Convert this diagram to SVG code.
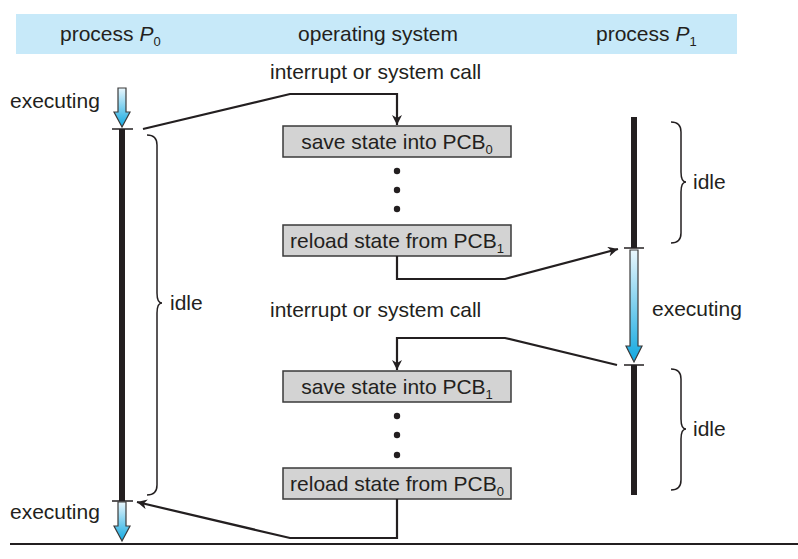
<svg xmlns="http://www.w3.org/2000/svg" width="798" height="559" viewBox="0 0 798 559">
<style>
text{font-family:"Liberation Sans",Arial,sans-serif;font-size:21px;fill:#231f20}
.mid{text-anchor:middle}
.box{fill:#d3d3d3;stroke:#3a3a3a;stroke-width:1.5}
.con{fill:none;stroke:#231f20;stroke-width:2.2}
.tl{fill:none;stroke:#231f20;stroke-width:6}
.tick{stroke:#231f20;stroke-width:1.5}
.brace{fill:none;stroke:#231f20;stroke-width:1.5}
.exec{fill:url(#g);stroke:#3a3a3a;stroke-width:1.2}
.dot{fill:#231f20}
</style>
<defs>
<linearGradient id="g" x1="0" y1="0" x2="0" y2="1">
<stop offset="0" stop-color="#eaf7fd"/>
<stop offset="1" stop-color="#10a8e0"/>
</linearGradient>
<marker id="ah" viewBox="0 0 10 10" refX="10" refY="5" markerWidth="10" markerHeight="10" markerUnits="userSpaceOnUse" orient="auto">
<path d="M0,0 L10,5 L0,10 L3,5 Z" fill="#231f20"/>
</marker>
</defs>

<g id="header">
<rect x="16" y="14" width="721" height="40" fill="#c7e9f9"/>
<text x="60" y="41">process <tspan font-style="italic">P</tspan><tspan font-size="13" dy="5">0</tspan></text>
<text x="378" y="41" class="mid">operating system</text>
<text x="596" y="41">process <tspan font-style="italic">P</tspan><tspan font-size="13" dy="5">1</tspan></text>
</g>

<g id="process-p0">
<path class="exec" d="M118,88 H126 V112 H130 L122,127 L114,112 H118 Z"/>
<line class="tick" x1="112" y1="129" x2="133" y2="129"/>
<line class="tl" x1="122" y1="129" x2="122" y2="501"/>
<line class="tick" x1="112" y1="501" x2="133" y2="501"/>
<path class="exec" d="M118,502 H126 V526 H130 L122,541 L114,526 H118 Z"/>
<text x="10" y="108">executing</text>
<text x="10" y="519">executing</text>
<path class="brace" d="M147,135 Q157,135 157,145 L157,293 Q157,303 162,303 Q157,303 157,313 L157,485 Q157,495 147,495"/>
<text x="170" y="310">idle</text>
</g>

<g id="process-p1">
<line class="tl" x1="634" y1="117" x2="634" y2="248"/>
<line class="tick" x1="624" y1="248" x2="644" y2="248"/>
<path class="exec" d="M630,250 H638 V346 H642 L634,362 L626,346 H630 Z"/>
<line class="tick" x1="624" y1="365" x2="644" y2="365"/>
<line class="tl" x1="634" y1="365" x2="634" y2="495"/>
<path class="brace" d="M671,122 Q681,122 681,132 L681,172 Q681,182 686,182 Q681,182 681,192 L681,233 Q681,243 671,243"/>
<text x="693" y="189">idle</text>
<text x="652" y="316">executing</text>
<path class="brace" d="M671,369 Q681,369 681,379 L681,419 Q681,429 686,429 Q681,429 681,439 L681,480 Q681,490 671,490"/>
<text x="693" y="436">idle</text>
</g>

<g id="os">
<text x="270" y="79">interrupt or system call</text>
<text x="270" y="317">interrupt or system call</text>
</g>

<g id="save-pcb0">
<rect class="box" x="283" y="126" width="228" height="31"/>
<text x="397" y="149" class="mid">save state into PCB<tspan font-size="13" dy="5">0</tspan></text>
</g>
<g id="dots1">
<circle class="dot" cx="397" cy="171" r="3.2"/>
<circle class="dot" cx="397" cy="190" r="3.2"/>
<circle class="dot" cx="397" cy="209" r="3.2"/>
</g>
<g id="reload-pcb1">
<rect class="box" x="283" y="225" width="228" height="31"/>
<text x="397" y="248" class="mid">reload state from PCB<tspan font-size="13" dy="5">1</tspan></text>
</g>
<g id="save-pcb1">
<rect class="box" x="283" y="371" width="228" height="31"/>
<text x="397" y="394" class="mid">save state into PCB<tspan font-size="13" dy="5">1</tspan></text>
</g>
<g id="dots2">
<circle class="dot" cx="397" cy="416" r="3.2"/>
<circle class="dot" cx="397" cy="435" r="3.2"/>
<circle class="dot" cx="397" cy="455" r="3.2"/>
</g>
<g id="reload-pcb0">
<rect class="box" x="283" y="468" width="228" height="31"/>
<text x="397" y="491" class="mid">reload state from PCB<tspan font-size="13" dy="5">0</tspan></text>
</g>

<g id="connectors">
<polyline class="con" points="143,129 290,94 397,94 397,125" marker-end="url(#ah)"/>
<polyline class="con" points="397,256 397,279 505,279 618,249" marker-end="url(#ah)"/>
<polyline class="con" points="617,365 505,338 397,338 397,370" marker-end="url(#ah)"/>
<polyline class="con" points="397,499 397,538 290,538 137,502" marker-end="url(#ah)"/>
<line x1="10" y1="544" x2="798" y2="544" stroke="#231f20" stroke-width="2"/>
</g>
</svg>
